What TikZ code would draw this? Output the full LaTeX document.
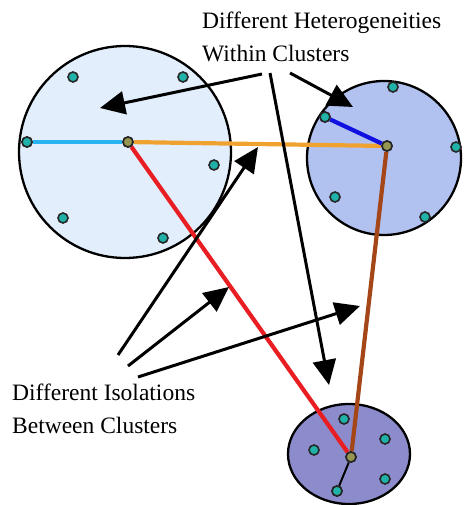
\documentclass[tikz,border=0pt]{standalone}
\usepackage{fontspec}
\setmainfont{Liberation Serif}
\usetikzlibrary{arrows.meta}
\definecolor{fillA}{RGB}{226,238,251}
\definecolor{fillB}{RGB}{178,194,240}
\definecolor{fillC}{RGB}{140,140,204}
\definecolor{dotteal}{RGB}{32,178,168}
\definecolor{hubfill}{RGB}{150,150,80}
\definecolor{cyanline}{RGB}{40,180,240}
\definecolor{orangeline}{RGB}{240,162,48}
\definecolor{redline}{RGB}{232,30,34}
\definecolor{brownline}{RGB}{164,70,24}
\definecolor{blueline}{RGB}{16,16,224}
\begin{document}
\begin{tikzpicture}[x=1pt,y=-1pt,
  cluster/.style={draw=black,line width=2.3pt},
  dot/.style={circle,draw=black!85,fill=dotteal,line width=1.6pt,minimum size=10pt,inner sep=0pt},
  hub/.style={circle,draw=black!85,fill=hubfill,line width=1.6pt,minimum size=10pt,inner sep=0pt},
  link/.style={line width=4.2pt},
  pointer/.style={line width=3pt,-{Triangle[length=25pt,width=23pt]}},
  caption/.style={font=\fontsize{23.5}{32.5}\selectfont,align=left,anchor=north west,inner sep=0pt}]
\useasboundingbox (0,0) rectangle (463,505);
% clusters
\draw[cluster,fill=fillA] (125,152) circle[radius=106];
\draw[cluster,fill=fillB] (384,158) circle[radius=77];
\draw[cluster,fill=fillC] (349,454) ellipse[x radius=61,y radius=50];
% hubs and members
\node[hub] (hA) at (128,142) {};
\node[hub] (hB) at (387,146) {};
\node[hub] (hC) at (351,457) {};
\node[dot] (a1) at (27,142) {};
\node[dot] (a2) at (73,77) {};
\node[dot] (a3) at (183,77) {};
\node[dot] (a4) at (214,165) {};
\node[dot] (a5) at (63,218) {};
\node[dot] (a6) at (163,238) {};
\node[dot] (b1) at (325,117) {};
\node[dot] (b2) at (393,87) {};
\node[dot] (b3) at (456,147) {};
\node[dot] (b4) at (335,197) {};
\node[dot] (b5) at (425,217) {};
\node[dot] (c1) at (337,491) {};
\node[dot] (c2) at (344,419) {};
\node[dot] (c3) at (314,450) {};
\node[dot] (c4) at (385,439) {};
\node[dot] (c5) at (385,479) {};
% links
\draw[link,cyanline] (a1) -- (hA);
\draw[link,orangeline] (hA) -- (hB);
\draw[link,redline] (hA) -- (hC);
\draw[link,brownline] (hB) -- (hC);
\draw[link,blueline] (b1) -- (hB);
\draw[line width=2pt,black] (c1) -- (hC);
% redraw nodes on top
\node[hub] at (hA) {};
\node[hub] at (hB) {};
\node[hub] at (hC) {};
\node[dot] at (a1) {};
\node[dot] at (b1) {};
\node[dot] at (c1) {};
% captions
\node[caption] (top) at (202,12) {Different Heterogeneities\\Within Clusters};
\node[caption] (bot) at (12,384) {Different Isolations\\Between Clusters};
% arrow anchors
\coordinate (s1) at (262,74);
\coordinate (s2) at (290,73);
\coordinate (s3) at (270,73);
\coordinate (t1) at (100,108);
\coordinate (t2) at (353,107);
\coordinate (t3) at (329,385);
\coordinate (u1) at (118,355);
\coordinate (u2) at (128,366);
\coordinate (u3) at (138,377);
\coordinate (v1) at (258,147);
\coordinate (v2) at (229,287);
\coordinate (v3) at (360,306);
\draw[pointer] (s1) -- (t1);
\draw[pointer] (s2) -- (t2);
\draw[pointer] (s3) -- (t3);
\draw[pointer] (u1) -- (v1);
\draw[pointer] (u2) -- (v2);
\draw[pointer] (u3) -- (v3);
\end{tikzpicture}
\end{document}
